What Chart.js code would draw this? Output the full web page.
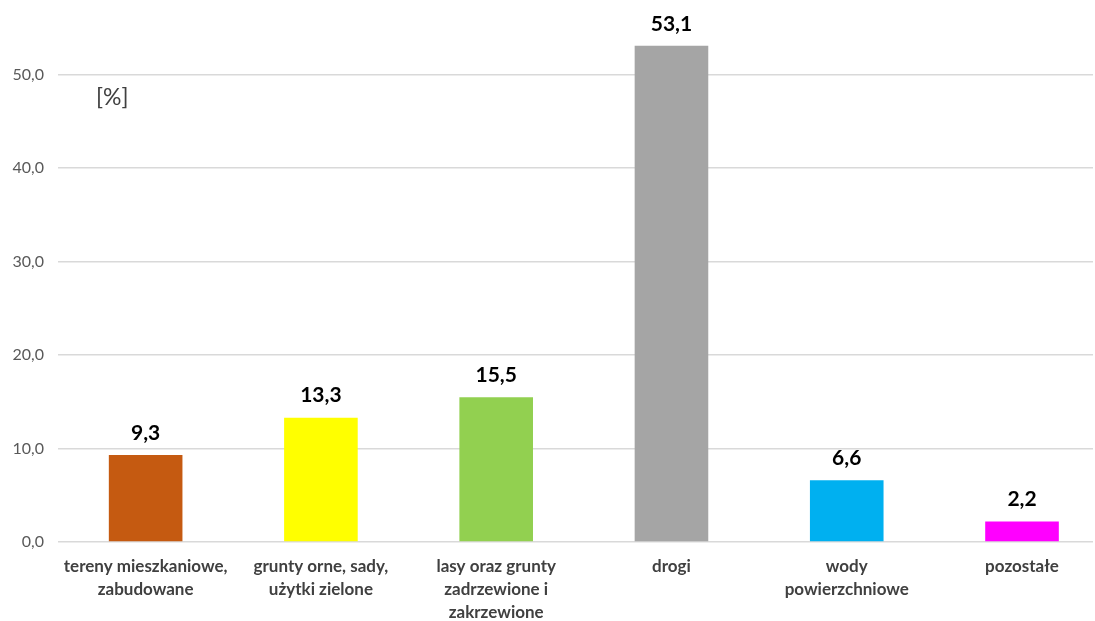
<!DOCTYPE html>
<html>
<head>
<meta charset="utf-8">
<script src="https://cdn.jsdelivr.net/npm/chart.js@4.4.1/dist/chart.umd.min.js"></script>
<style>
html,body{margin:0;padding:0;background:#fff;}
#wrap{width:1095px;height:621px;position:relative;}
</style>
</head>
<body>
<div id="wrap"><canvas id="c" width="1095" height="621"></canvas></div>
<script>
const categories = [
  ["tereny mieszkaniowe,", "zabudowane"],
  ["grunty orne, sady,", "użytki zielone"],
  ["lasy oraz grunty", "zadrzewione i", "zakrzewione"],
  "drogi",
  ["wody", "powierzchniowe"],
  "pozostałe"
];
const values = [9.3, 13.3, 15.5, 53.1, 6.6, 2.2];
const barColors = ["#C55A11", "#FFFF00", "#92D050", "#A5A5A5", "#00B0F0", "#FF00FF"];
const yTicks = [0, 10, 20, 30, 40, 50];
const unitLabel = "[%]";

const FONT = "Lato, 'Open Sans', sans-serif";
const fmt = v => v.toFixed(1).replace('.', ',');

const labelPlugin = {
  id: 'vals',
  afterDatasetsDraw(chart) {
    const ctx = chart.ctx;
    const meta = chart.getDatasetMeta(0);
    ctx.save();
    ctx.font = "bold 21px " + FONT;
    ctx.fillStyle = "#000";
    ctx.textAlign = "center";
    ctx.textBaseline = "middle";
    meta.data.forEach((bar, i) => {
      ctx.fillText(fmt(values[i]), bar.x, bar.y - 22);
    });
    ctx.font = "23px " + FONT;
    ctx.fillStyle = "#404040";
    ctx.textAlign = "left";
    ctx.fillText(unitLabel, 96, 98);
    ctx.restore();
  }
};

new Chart(document.getElementById('c'), {
  type: 'bar',
  data: {
    datasets: [{
      data: values.map((v, i) => ({ x: i, y: v })),
      backgroundColor: barColors,
      borderWidth: 0,
      barPercentage: 0.42,
      categoryPercentage: 1
    }]
  },
  options: {
    responsive: false,
    animation: false,
    events: [],
    layout: { padding: { top: 28, right: 2, left: 0, bottom: 0 } },
    plugins: { legend: { display: false }, tooltip: { enabled: false } },
    scales: {
      x: {
        type: 'linear',
        offset: false,
        min: -0.5,
        max: 5.405,
        grid: { display: false, drawTicks: false },
        border: { display: false },
        afterBuildTicks(s) { s.ticks = categories.map((c, i) => ({ value: i })); },
        ticks: {
          color: "#404040",
          font: { family: FONT, size: 17, weight: 'bold', lineHeight: 1.36 },
          padding: 13,
          maxRotation: 0,
          autoSkip: false,
          callback: (v) => categories[v]
        },
        afterFit(s) { s.height = 79; }
      },
      y: {
        min: 0,
        max: 55,
        grid: { color: "#D9D9D9", lineWidth: 1.5, drawTicks: false },
        border: { display: false },
        afterBuildTicks(s) { s.ticks = yTicks.map(v => ({ value: v })); },
        ticks: {
          color: "#595959",
          font: { family: FONT, size: 16 },
          padding: 14,
          callback: v => fmt(v)
        },
        afterFit(s) { s.width = 58; }
      }
    }
  },
  plugins: [labelPlugin]
});
</script>
</body>
</html>
